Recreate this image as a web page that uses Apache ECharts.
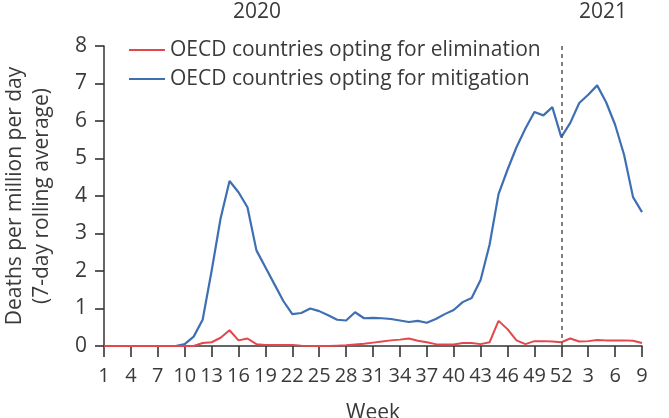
<!DOCTYPE html>
<html>
<head>
<meta charset="utf-8">
<script src="https://cdn.jsdelivr.net/npm/echarts@6/dist/echarts.min.js"></script>
<style>
html,body{margin:0;padding:0;background:#fff;}
#c{width:669px;height:418px;}
</style>
</head>
<body>
<div id="c"></div>
<script>
// Week numbers: 2020 weeks 1-52, then 2021 weeks 1-9
const weeks2020 = [1,2,3,4,5,6,7,8,9,10,11,12,13,14,15,16,17,18,19,20,21,22,23,24,25,26,27,28,29,30,31,32,33,34,35,36,37,38,39,40,41,42,43,44,45,46,47,48,49,50,51,52];
const weeks2021 = [1,2,3,4,5,6,7,8,9];
const yearLabels = ['2020', '2021'];
const seriesNames = ['OECD countries opting for elimination', 'OECD countries opting for mitigation'];

// Deaths per million per day (7-day rolling average)
const elimination2020 = [0,0,0,0,0,0,0,0,0,0,0,0.08,0.1,0.22,0.42,0.15,0.2,0.05,0.03,0.03,0.03,0.03,0.01,0,0,0,0.01,0.02,0.04,0.06,0.09,0.12,0.15,0.17,0.2,0.14,0.1,0.05,0.04,0.04,0.08,0.08,0.05,0.1,0.67,0.45,0.15,0.05,0.13,0.13,0.12,0.1];
const elimination2021 = [0.2,0.12,0.13,0.16,0.15,0.15,0.15,0.14,0.08];
const mitigation2020 = [0,0,0,0,0,0,0,0,0,0.05,0.25,0.7,2.0,3.4,4.4,4.1,3.7,2.55,2.1,1.65,1.2,0.85,0.88,1.0,0.93,0.82,0.7,0.68,0.9,0.74,0.75,0.74,0.72,0.68,0.64,0.67,0.62,0.72,0.85,0.96,1.17,1.28,1.76,2.7,4.05,4.7,5.3,5.8,6.24,6.15,6.37,5.57];
const mitigation2021 = [5.95,6.48,6.7,6.95,6.5,5.9,5.1,3.97,3.57];

const categories = weeks2020.map(w => '2020-' + w).concat(weeks2021.map(w => '2021-' + w));
const FONT = '"Open Sans", sans-serif';
const TXT = '#3a3a3a';
const RED = '#e4474b';
const BLUE = '#3e6fb3';

const chart = echarts.init(document.getElementById('c'));
chart.setOption({
  animation: false,
  backgroundColor: '#fff',
  textStyle: { fontFamily: FONT },
  grid: { left: 104, right: 27, top: 46, bottom: 72, outerBoundsMode: 'none', containLabel: false },
  legend: {
    orient: 'vertical',
    left: 124, top: 31,
    icon: 'rect',
    itemWidth: 36, itemHeight: 2, itemGap: 1,
    textStyle: { fontFamily: FONT, fontSize: 21, color: TXT, lineHeight: 28 },
    data: seriesNames
  },
  xAxis: {
    type: 'category',
    data: categories,
    boundaryGap: false,
    name: 'Week',
    nameLocation: 'middle',
    nameGap: 57,
    nameTextStyle: { fontFamily: FONT, fontSize: 21, color: TXT },
    axisLine: { lineStyle: { color: '#333', width: 1.5 } },
    axisTick: { interval: 2, length: 11, inside: false, lineStyle: { color: '#333', width: 1.6 } },
    axisLabel: {
      interval: 2, margin: 20, fontFamily: FONT, fontSize: 20, color: TXT,
      formatter: v => v.split('-')[1]
    },
    splitLine: { show: false }
  },
  yAxis: {
    type: 'value',
    min: 0, max: 8, interval: 1,
    name: 'Deaths per million per day\n(7-day rolling average)',
    nameLocation: 'middle',
    nameRotate: 90,
    nameGap: 48,
    nameTextStyle: { fontFamily: FONT, fontSize: 21, color: TXT, lineHeight: 27 },
    axisLine: { show: true, lineStyle: { color: '#333', width: 1.5 } },
    axisTick: { show: true, length: 9, lineStyle: { color: '#333', width: 1.6 } },
    axisLabel: { margin: 17, fontFamily: FONT, fontSize: 21, color: TXT },
    splitLine: { show: false }
  },
  series: [
    {
      name: seriesNames[0],
      type: 'line',
      symbol: 'none',
      data: elimination2020.concat(elimination2021),
      lineStyle: { color: RED, width: 2 },
      itemStyle: { color: RED },
      z: 3
    },
    {
      name: seriesNames[1],
      type: 'line',
      symbol: 'none',
      data: mitigation2020.concat(mitigation2021),
      lineStyle: { color: BLUE, width: 2.2 },
      itemStyle: { color: BLUE },
      z: 2,
      markLine: {
        silent: true,
        symbol: 'none',
        label: { show: false },
        lineStyle: { color: '#555', type: [4, 4], width: 1.5 },
        data: [{ xAxis: weeks2020.length - 1 }]
      }
    }
  ],
  graphic: [
    { type: 'text', left: 258 - 25, top: 2, style: { text: yearLabels[0], fontFamily: FONT, fontSize: 21, fill: TXT } },
    { type: 'text', left: 604 - 25, top: 2, style: { text: yearLabels[1], fontFamily: FONT, fontSize: 21, fill: TXT } }
  ]
});
</script>
</body>
</html>
